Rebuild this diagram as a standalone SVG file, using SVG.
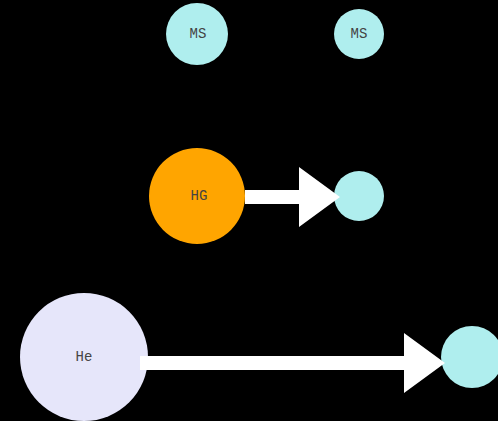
<svg xmlns="http://www.w3.org/2000/svg" width="498" height="421" viewBox="0 0 498 421">
  <style>
    .lbl { font-family: "Liberation Mono", "Courier New", monospace; font-size: 14px; fill: #444; text-anchor: middle; dominant-baseline: central; }
    .cyan { fill: #afeeee; }
    .edge { fill: #ffffff; }
  </style>
  <rect width="498" height="421" fill="#000"/>
  <g id="ms1">
    <circle class="cyan" cx="197" cy="34" r="31"/>
    <text class="lbl" x="198" y="34">MS</text>
  </g>
  <g id="ms2">
    <circle class="cyan" cx="359" cy="34" r="25"/>
    <text class="lbl" x="359" y="34">MS</text>
  </g>
  <g id="hg">
    <circle cx="197" cy="196" r="48" fill="#ffa500"/>
    <text class="lbl" x="199" y="196">HG</text>
  </g>
  <g id="hg-target">
    <circle class="cyan" cx="359" cy="196" r="25"/>
  </g>
  <g id="he">
    <circle cx="84" cy="357" r="64" fill="#e6e6fa"/>
    <text class="lbl" x="84" y="357">He</text>
  </g>
  <g id="he-target">
    <circle class="cyan" cx="472" cy="357" r="31"/>
  </g>
  <g id="connectors">
    <polygon class="edge" points="245,190 299,190 299,167 340,197 299,227 299,204 245,204"/>
    <polygon class="edge" points="140,356 404,356 404,333 445,363 404,393 404,370 140,370"/>
  </g>
</svg>
